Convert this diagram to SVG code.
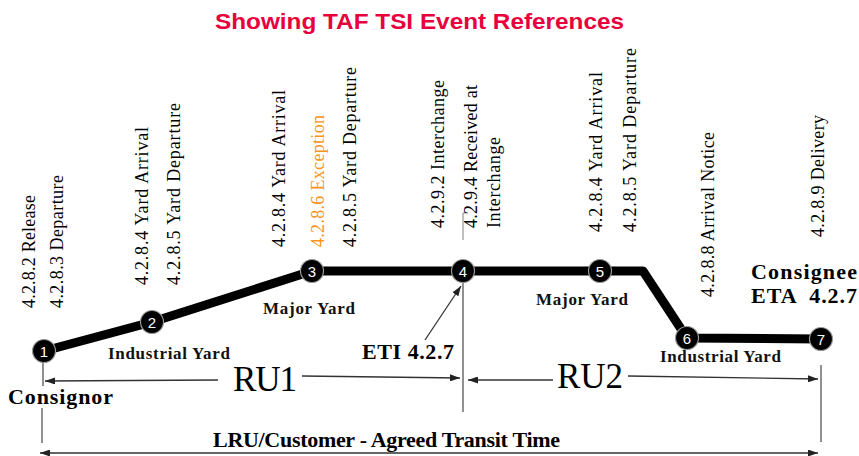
<svg xmlns="http://www.w3.org/2000/svg" width="859" height="456" viewBox="0 0 859 456">
  <style>
    .title { font-family: "Liberation Sans", Arial, sans-serif; font-weight: 900; font-size: 22px; fill: #e8003d; }
    .ev { font-family: "Liberation Serif", "Times New Roman", serif; font-size: 18px; fill: #000; }
    .exc { fill: #f7941d; }
    .place { font-family: "Liberation Serif", "Times New Roman", serif; font-weight: bold; font-size: 17px; fill: #111; }
    .party { font-family: "Liberation Serif", "Times New Roman", serif; font-weight: bold; font-size: 22px; fill: #000; }
    .ru { font-family: "Liberation Serif", "Times New Roman", serif; font-size: 35px; fill: #000; }
    .num { font-family: "Liberation Sans", Arial, sans-serif; font-size: 15px; fill: #fff; text-anchor: middle; }
    .stop { fill: #000; stroke: #9a9a9a; stroke-width: 1.2; }
    .route { fill: none; stroke: #000; stroke-width: 9; stroke-linejoin: round; stroke-linecap: round; }
    .thin { fill: none; stroke: #333; stroke-width: 1.3; }
    .guide { fill: none; stroke: #555; stroke-width: 1.3; }
  </style>
  <defs>
    <marker id="arrow" markerUnits="userSpaceOnUse" markerWidth="11" markerHeight="7" refX="10" refY="3.5" orient="auto-start-reverse">
      <path d="M0,0 L10,3.5 L0,7 z" fill="#222"/>
    </marker>
  </defs>

  <rect width="859" height="456" fill="#fff"/>

  <text class="title" x="215" y="29" textLength="409" lengthAdjust="spacingAndGlyphs">Showing TAF TSI Event References</text>

  <!-- connectors: route line, timing spans and guides -->
  <g id="connectors">
    <path class="route" d="M44,351 L152,322 L312,271 L643,271 L687,338 L821,339"/>
    <!-- ETI pointer -->
    <line class="thin" x1="425" y1="340" x2="461" y2="286" marker-end="url(#arrow)"/>
    <!-- vertical guides -->
    <line class="guide" x1="43" y1="362" x2="43" y2="386"/>
    <line class="guide" x1="42" y1="408" x2="42" y2="443"/>
    <line class="guide" x1="463" y1="283" x2="463" y2="412"/>
    <line class="guide" x1="821" y1="365" x2="821" y2="442"/>
    <line x1="463" y1="213" x2="463" y2="240" stroke="#aaa" stroke-width="1.5"/>
    <line x1="463" y1="213" x2="468" y2="213" stroke="#aaa" stroke-width="1.5"/>
    <!-- RU1 span -->
    <line class="thin" x1="218" y1="380" x2="45" y2="381" marker-end="url(#arrow)"/>
    <line class="thin" x1="302" y1="376" x2="460" y2="378" marker-end="url(#arrow)"/>
    <!-- RU2 span -->
    <line class="thin" x1="553" y1="380" x2="468" y2="380" marker-end="url(#arrow)"/>
    <line class="thin" x1="628" y1="376" x2="818" y2="379" marker-end="url(#arrow)"/>
    <!-- agreed transit time span -->
    <line class="thin" x1="40" y1="453" x2="818" y2="453" marker-start="url(#arrow)" marker-end="url(#arrow)"/>
  </g>

  <!-- stops -->
  <g id="node1"><circle class="stop" cx="44" cy="351" r="11.5"/><text class="num" x="44" y="356.5">1</text></g>
  <g id="node2"><circle class="stop" cx="152" cy="322" r="11.5"/><text class="num" x="152" y="327.5">2</text></g>
  <g id="node3"><circle class="stop" cx="312" cy="271" r="11.5"/><text class="num" x="312" y="276.5">3</text></g>
  <g id="node4"><circle class="stop" cx="463" cy="271" r="11.5"/><text class="num" x="463" y="276.5">4</text></g>
  <g id="node5"><circle class="stop" cx="600" cy="271" r="11.5"/><text class="num" x="600" y="276.5">5</text></g>
  <g id="node6"><circle class="stop" cx="687" cy="338" r="11.5"/><text class="num" x="687" y="343.5">6</text></g>
  <g id="node7"><circle class="stop" cx="821" cy="339" r="11.5"/><text class="num" x="821" y="344.5">7</text></g>

  <!-- event references, read bottom to top -->
  <g id="events1">
    <text class="ev" transform="translate(35,308) rotate(-90)" textLength="113">4.2.8.2 Release</text>
    <text class="ev" transform="translate(63,308) rotate(-90)" textLength="133">4.2.8.3 Departure</text>
  </g>
  <g id="events2">
    <text class="ev" transform="translate(148,285) rotate(-90)" textLength="158">4.2.8.4 Yard Arrival</text>
    <text class="ev" transform="translate(180,285) rotate(-90)" textLength="182">4.2.8.5 Yard Departure</text>
  </g>
  <g id="events3">
    <text class="ev" transform="translate(285,247) rotate(-90)" textLength="157">4.2.8.4 Yard Arrival</text>
    <text class="ev exc" transform="translate(324,247) rotate(-90)" textLength="132">4.2.8.6 Exception</text>
    <text class="ev" transform="translate(356,247) rotate(-90)" textLength="180">4.2.8.5 Yard Departure</text>
  </g>
  <g id="events4">
    <text class="ev" transform="translate(444,228) rotate(-90)" textLength="148">4.2.9.2 Interchange</text>
    <text class="ev" transform="translate(477,228) rotate(-90)" textLength="143">4.2.9.4 Received at</text>
    <text class="ev" transform="translate(500,228) rotate(-90)" textLength="91">Interchange</text>
  </g>
  <g id="events5">
    <text class="ev" transform="translate(602,232) rotate(-90)" textLength="160">4.2.8.4 Yard Arrival</text>
    <text class="ev" transform="translate(636,232) rotate(-90)" textLength="184">4.2.8.5 Yard Departure</text>
  </g>
  <g id="events6">
    <text class="ev" transform="translate(714,297) rotate(-90)" textLength="165">4.2.8.8 Arrival Notice</text>
  </g>
  <g id="events7">
    <text class="ev" transform="translate(824,237) rotate(-90)" textLength="122">4.2.8.9 Delivery</text>
  </g>

  <!-- place names -->
  <g id="places">
    <text class="place" x="108" y="359" textLength="122">Industrial Yard</text>
    <text class="place" x="263" y="314" textLength="92">Major Yard</text>
    <text class="place" x="536" y="305" textLength="92">Major Yard</text>
    <text class="place" x="660" y="362" textLength="121">Industrial Yard</text>
  </g>

  <g id="parties">
    <text class="party" x="8" y="404" textLength="105">Consignor</text>
    <text class="party" x="751" y="279" textLength="106">Consignee</text>
    <text class="party" x="751" y="303" textLength="106" xml:space="preserve">ETA  4.2.7</text>
    <text class="party" x="362" y="359" font-size="21" textLength="92">ETI 4.2.7</text>
  </g>

  <g id="spans">
    <text class="ru" x="233" y="391" textLength="64">RU1</text>
    <text class="ru" x="557" y="388" textLength="66">RU2</text>
    <text class="party" x="213" y="447" font-size="20" textLength="347">LRU/Customer - Agreed Transit Time</text>
  </g>
</svg>
